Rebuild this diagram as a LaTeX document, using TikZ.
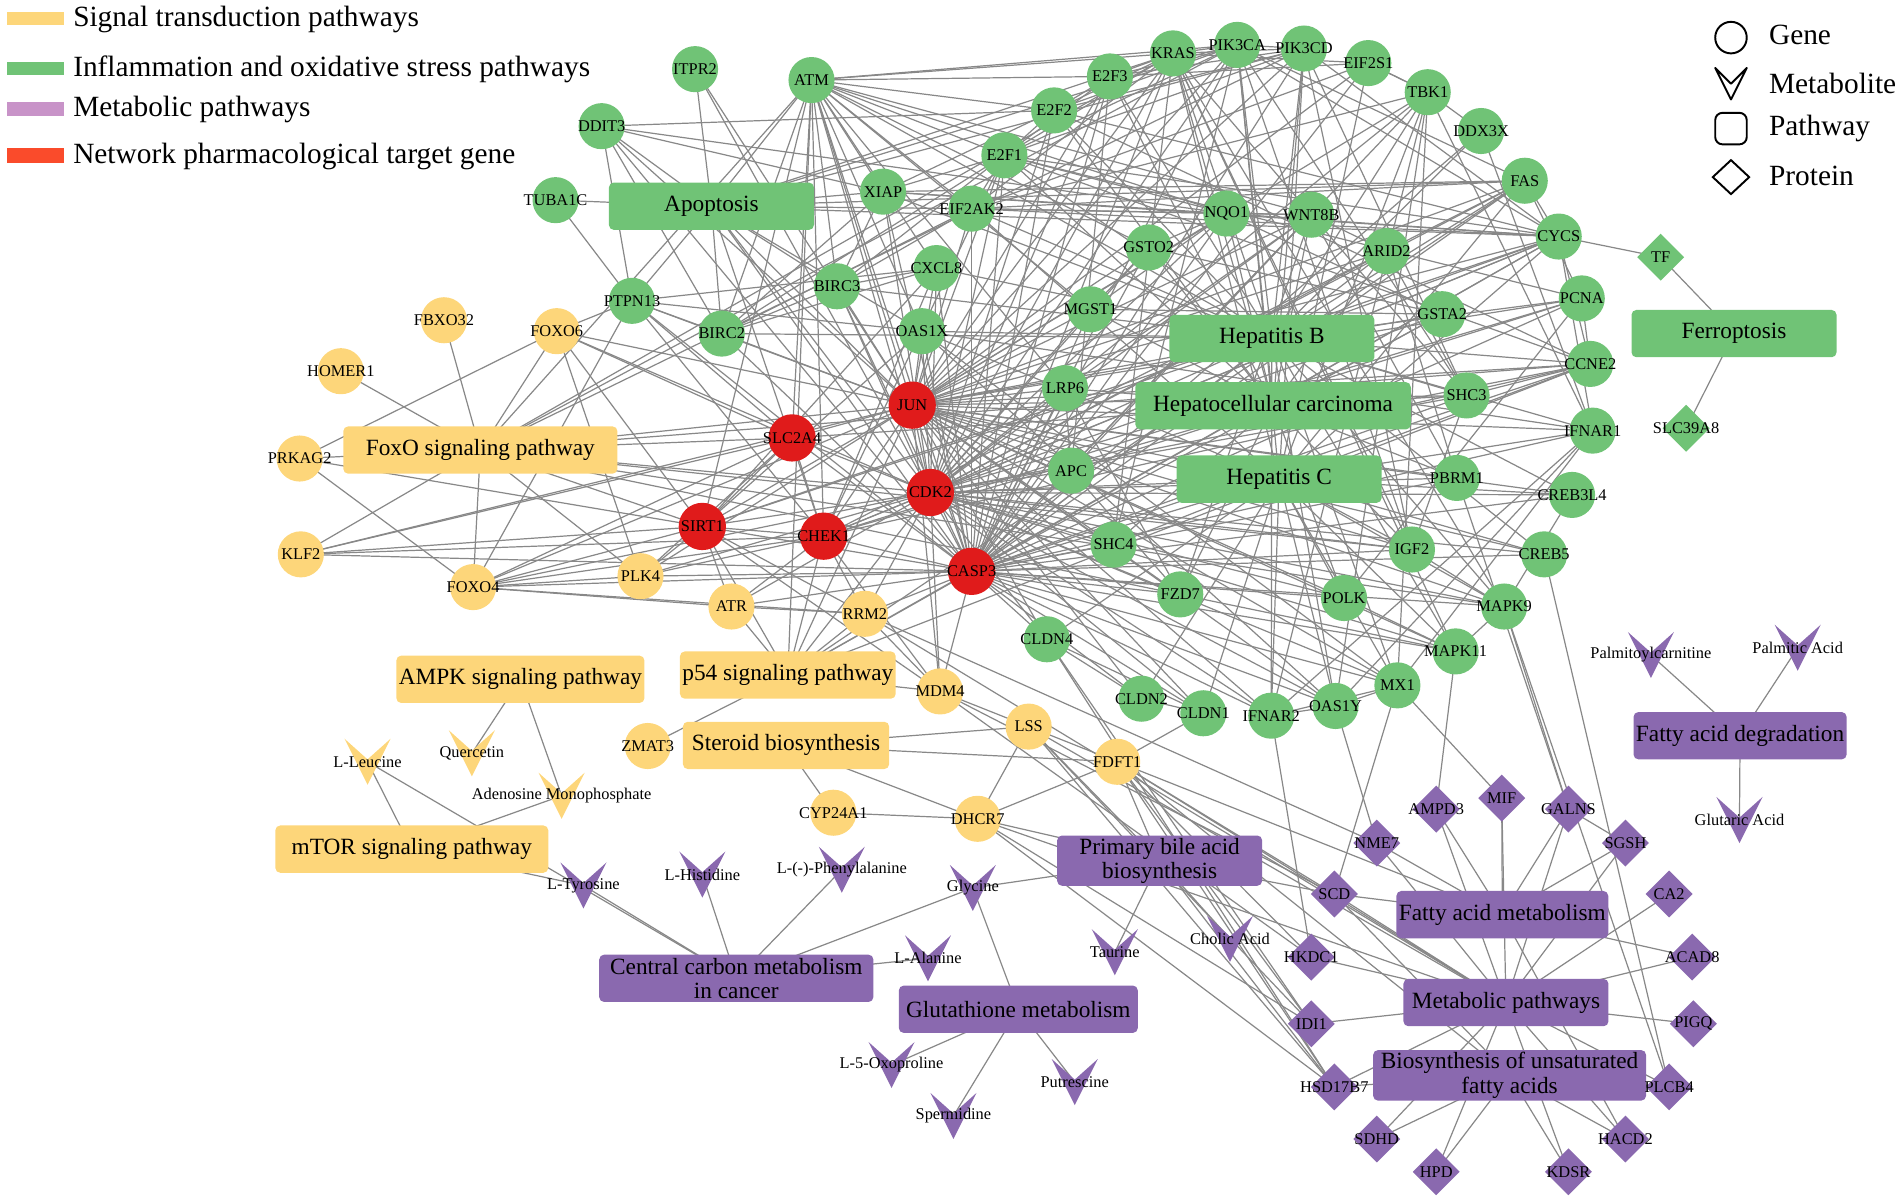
\documentclass[tikz,border=0pt]{standalone}
\usepackage{fontspec}
\setmainfont{Liberation Serif}
\usetikzlibrary{shapes.geometric}
\definecolor{yel}{HTML}{FDD67A}
\definecolor{grn}{HTML}{70C376}
\definecolor{tgt}{HTML}{E01B1B}
\definecolor{pur}{HTML}{8A69AF}
\definecolor{lgpur}{HTML}{C893C8}
\definecolor{lgred}{HTML}{FA4B2B}
\definecolor{edgegray}{HTML}{888888}
\pgfdeclarelayer{edges}
\pgfsetlayers{edges,main}
% metabolite chevron: [colour]{name}{x}{y}{label}
\newcommand{\metab}[5][pur]{%
  \fill[#1] (#3-19,#4-19) -- (#3,#4-2) -- (#3+19,#4-19) -- (#3,#4+19) -- cycle;
  \node[mlab] (#2) at (#3,#4) {#5};}
% one hub to many nodes
\newcommand{\fan}[2]{\foreach \nd in {#2} \draw[link] (#1.center) -- (\nd.center);}
\begin{document}
\begin{tikzpicture}[x=0.5pt,y=-0.5pt,
    ctr/.style={execute at begin node={\hbox to 0pt\bgroup\hss},
                execute at end node={\hss\egroup}},
    gfont/.style={font=\fontsize{6.75}{7}\selectfont},
    gene/.style={circle,fill=grn,minimum size=19pt,inner sep=0pt,gfont,ctr},
    target/.style={gene,fill=tgt,minimum size=19.5pt},
    ygene/.style={gene,fill=yel},
    prot/.style={diamond,fill=pur,minimum width=19.5pt,minimum height=19.5pt,inner sep=0pt,gfont,ctr},
    gprot/.style={prot,fill=grn},
    pwy/.style={rectangle,rounded corners=2pt,minimum height=19.5pt,inner sep=1pt,
                align=center,font=\fontsize{9.6}{10}\selectfont},
    gpw/.style={pwy,fill=grn,minimum width=#1},
    ypw/.style={pwy,fill=yel,minimum width=#1},
    ppw/.style={pwy,fill=pur,minimum width=#1},
    mlab/.style={inner sep=0pt,gfont},
    lgtext/.style={anchor=base west,inner sep=0pt,font=\fontsize{12.1}{13}\selectfont},
    link/.style={draw=edgegray,line width=0.5pt}]
\useasboundingbox (0,0) rectangle (1568,992);

% legend, colours
\fill[yel] (6,10) rectangle (53,21);
\fill[grn] (6,51) rectangle (53,62);
\fill[lgpur] (6,84) rectangle (53,96);
\fill[lgred] (6,122) rectangle (53,134);
\node[lgtext] (lgsig) at (60,22) {Signal transduction pathways};
\node[lgtext] (lginf) at (60,63) {Inflammation and oxidative stress pathways};
\node[lgtext] (lgmet) at (60,96) {Metabolic pathways};
\node[lgtext] (lgnet) at (60,135) {Network pharmacological target gene};
% legend, shapes
\draw[line width=0.8pt] (1427,31) circle [radius=13];
\draw[line width=0.8pt,line join=round] (1414,56) -- (1427,82) -- (1440,56) -- (1427,69) -- cycle;
\draw[line width=0.8pt,rounded corners=3pt] (1414,93) rectangle (1440,119);
\draw[line width=0.8pt] (1427,132) -- (1442,146) -- (1427,160) -- (1412,146) -- cycle;
\node[lgtext] (lggene) at (1458,37) {Gene};
\node[lgtext] (lgmeta) at (1458,77) {Metabolite};
\node[lgtext] (lgpath) at (1458,112) {Pathway};
\node[lgtext] (lgprot) at (1458,153) {Protein};

% pathways
\node[gpw=84.5pt] (apo) at (586.5,170) {Apoptosis};
\node[gpw=84.5pt] (hepb) at (1048.5,279) {Hepatitis B};
\node[gpw=113.5pt] (hcc) at (1049.5,334.5) {Hepatocellular carcinoma};
\node[gpw=84.5pt] (hepc) at (1054.5,395) {Hepatitis C};
\node[gpw=84.5pt] (ferro) at (1429.5,275) {Ferroptosis};
\node[ypw=113pt] (foxo) at (396,371) {FoxO signaling pathway};
\node[ypw=102pt] (ampk) at (429,560) {AMPK signaling pathway};
\node[ypw=86pt] (p54) at (649.5,556.5) {p54 signaling pathway};
\node[ypw=85pt] (ster) at (648,614.5) {Steroid biosynthesis};
\node[ypw=112.5pt] (mtor) at (339.5,700) {mTOR signaling pathway};
\node[ppw=84.5pt] (pba) at (956,709.5) {Primary bile acid\\biosynthesis};
\node[ppw=113pt] (ccm) at (607,806.5) {Central carbon metabolism\\in cancer};
\node[ppw=98.5pt] (glu) at (839.5,832) {Glutathione metabolism};
\node[ppw=84.5pt] (fad) at (1434.5,606.5) {Fatty acid degradation};
\node[ppw=84.5pt] (fam) at (1238.5,754) {Fatty acid metabolism};
\node[ppw=84.5pt] (met) at (1241.5,826.5) {Metabolic pathways};
\node[ppw=112.5pt] (bufa) at (1244.5,886.5) {Biosynthesis of unsaturated\\fatty acids};

% green genes
\node[gene] (itpr2) at (573,57) {ITPR2};
\node[gene] (atm) at (669,66) {ATM};
\node[gene] (ddit3) at (496,104) {DDIT3};
\node[gene] (tuba) at (458,165) {TUBA1C};
\node[gene] (xiap) at (728,158) {XIAP};
\node[gene] (eif2ak2) at (801,172) {EIF2AK2};
\node[gene] (e2f1) at (828,128) {E2F1};
\node[gene] (e2f2) at (869,91) {E2F2};
\node[gene] (e2f3) at (915,63) {E2F3};
\node[gene] (kras) at (967,44) {KRAS};
\node[gene] (pik3ca) at (1020,37) {PIK3CA};
\node[gene] (pik3cd) at (1075,40) {PIK3CD};
\node[gene] (eif2s1) at (1128,52) {EIF2S1};
\node[gene] (tbk1) at (1177,76) {TBK1};
\node[gene] (ddx3x) at (1221,108) {DDX3X};
\node[gene] (fas) at (1257,149) {FAS};
\node[gene] (cycs) at (1285,195) {CYCS};
\node[gene] (nqo1) at (1011,176) {NQO1};
\node[gene] (wnt8b) at (1081,177) {WNT8B};
\node[gene] (arid2) at (1143,207) {ARID2};
\node[gene] (gsto2) at (947,204) {GSTO2};
\node[gene] (cxcl8) at (772,221) {CXCL8};
\node[gene] (birc3) at (690,236) {BIRC3};
\node[gene] (ptpn) at (521,248) {PTPN13};
\node[gene] (birc2) at (595,275) {BIRC2};
\node[gene] (oas1x) at (760,273) {OAS1X};
\node[gene] (mgst1) at (899,255) {MGST1};
\node[gene] (gsta2) at (1189,259) {GSTA2};
\node[gene] (pcna) at (1304,246) {PCNA};
\node[gene] (ccne2) at (1311,300) {CCNE2};
\node[gene] (shc3) at (1209,326) {SHC3};
\node[gene] (ifnar1) at (1313,355) {IFNAR1};
\node[gene] (pbrm1) at (1201,394) {PBRM1};
\node[gene] (creb3l4) at (1296,408) {CREB3L4};
\node[gene] (creb5) at (1273,457) {CREB5};
\node[gene] (igf2) at (1164,453) {IGF2};
\node[gene] (polk) at (1108,493) {POLK};
\node[gene] (mapk9) at (1240,500) {MAPK9};
\node[gene] (mapk11) at (1200,537) {MAPK11};
\node[gene] (mx1) at (1152,565) {MX1};
\node[gene] (oas1y) at (1101,582) {OAS1Y};
\node[gene] (ifnar2) at (1048,590) {IFNAR2};
\node[gene] (cldn1) at (992,588) {CLDN1};
\node[gene] (cldn2) at (941,576) {CLDN2};
\node[gene] (cldn4) at (863,527) {CLDN4};
\node[gene] (fzd7) at (973,490) {FZD7};
\node[gene] (shc4) at (918,449) {SHC4};
\node[gene] (apc) at (883,388) {APC};
\node[gene] (lrp6) at (878,320) {LRP6};
\node[gprot] (tf) at (1369,212) {TF};
\node[gprot] (slc39a8) at (1390,353) {SLC39A8};

% target genes
\node[target] (jun) at (752,334) {JUN};
\node[target] (slc2a4) at (653,361) {SLC2A4};
\node[target] (cdk2) at (767,406) {CDK2};
\node[target] (sirt1) at (579,434) {SIRT1};
\node[target] (chek1) at (679,442) {CHEK1};
\node[target] (casp3) at (801,471) {CASP3};

% yellow genes
\node[ygene] (fbxo32) at (366,264) {FBXO32};
\node[ygene] (foxo6) at (459,273) {FOXO6};
\node[ygene] (homer1) at (281,306) {HOMER1};
\node[ygene] (prkag2) at (247,378) {PRKAG2};
\node[ygene] (klf2) at (248,457) {KLF2};
\node[ygene] (foxo4) at (390,484) {FOXO4};
\node[ygene] (plk4) at (528,475) {PLK4};
\node[ygene] (atr) at (603,500) {ATR};
\node[ygene] (rrm2) at (713,506) {RRM2};
\node[ygene] (mdm4) at (775,570) {MDM4};
\node[ygene] (zmat3) at (534,615) {ZMAT3};
\node[ygene] (lss) at (848,599) {LSS};
\node[ygene] (fdft1) at (921,628) {FDFT1};
\node[ygene] (cyp24a1) at (687,670) {CYP24A1};
\node[ygene] (dhcr7) at (806,675) {DHCR7};

% metabolites
\metab[yel]{lleu}{303}{628}{L-Leucine}
\metab[yel]{quer}{389}{621}{Quercetin}
\metab[yel]{amp}{463}{656}{Adenosine Monophosphate}
\metab{ltyr}{481}{730}{L-Tyrosine}
\metab{lhis}{579}{721}{L-Histidine}
\metab{lphe}{694}{717}{L-(-)-Phenylalanine}
\metab{gly}{802}{732}{Glycine}
\metab{lala}{765}{790}{L-Alanine}
\metab{oxo}{735}{878}{L-5-Oxoproline}
\metab{sperm}{786}{920}{Spermidine}
\metab{putr}{886}{892}{Putrescine}
\metab{taur}{919}{785}{Taurine}
\metab{cholic}{1014}{774}{Cholic Acid}
\metab{palm}{1361}{540}{Palmitoylcarnitine}
\metab{palmac}{1482}{534}{Palmitic Acid}
\metab{glut}{1434}{676}{Glutaric Acid}

% proteins
\node[prot] (nme7) at (1135,695) {NME7};
\node[prot] (ampd3) at (1184,667) {AMPD3};
\node[prot] (mif) at (1238,658) {MIF};
\node[prot] (galns) at (1293,667) {GALNS};
\node[prot] (sgsh) at (1340,695) {SGSH};
\node[prot] (ca2) at (1376,737) {CA2};
\node[prot] (acad8) at (1395,789) {ACAD8};
\node[prot] (pigq) at (1396,844) {PIGQ};
\node[prot] (plcb4) at (1376,896) {PLCB4};
\node[prot] (hacd2) at (1340,939) {HACD2};
\node[prot] (kdsr) at (1293,966) {KDSR};
\node[prot] (hpd) at (1184,966) {HPD};
\node[prot] (sdhd) at (1135,939) {SDHD};
\node[prot] (hsd17b7) at (1100,896) {HSD17B7};
\node[prot] (idi1) at (1081,844) {IDI1};
\node[prot] (hkdc1) at (1081,789) {HKDC1};
\node[prot] (scd) at (1100,737) {SCD};

\begin{pgfonlayer}{edges}
% pathway hubs
\fan{apo}{tuba,ddit3,itpr2,atm,xiap,birc2,birc3,ptpn,eif2ak2,casp3,jun,cycs,fas,pik3ca,pik3cd,kras,cdk2,chek1,oas1x}
\fan{hepb}{atm,e2f1,e2f2,e2f3,kras,pik3ca,pik3cd,tbk1,ddx3x,fas,cycs,casp3,jun,cdk2,cxcl8,birc2,birc3,xiap,pcna,ccne2,ifnar1,ifnar2,creb3l4,creb5,mapk9,mapk11,eif2ak2,shc3,oas1x,mx1,oas1y,sirt1}
\fan{hcc}{arid2,pbrm1,apc,lrp6,fzd7,wnt8b,nqo1,gsto2,mgst1,gsta2,kras,pik3ca,pik3cd,shc3,shc4,e2f1,e2f2,e2f3,igf2,polk,slc2a4,chek1}
\fan{hepc}{cldn1,cldn2,cldn4,ifnar1,ifnar2,oas1x,oas1y,mx1,eif2ak2,eif2s1,tbk1,cycs,fas,casp3,cdk2,ccne2,kras,pik3ca,pik3cd,mapk9,mapk11,polk,creb3l4,creb5,jun,igf2,shc4}
\fan{ferro}{tf,slc39a8}
\fan{foxo}{fbxo32,foxo6,homer1,prkag2,klf2,foxo4,plk4,sirt1,slc2a4,cdk2,kras,pik3ca,pik3cd,mapk9,mapk11,igf2,atm,jun,ccne2}
\fan{p54}{atm,atr,chek1,cdk2,casp3,rrm2,mdm4,zmat3,ccne2,cycs,fas,sirt1,jun}
\fan{ster}{lss,fdft1,dhcr7,cyp24a1}
\fan{ampk}{quer,amp}
\fan{mtor}{lleu,amp,ltyr}
\fan{ccm}{ltyr,lhis,lphe,gly,lala,lleu}
\fan{glu}{gly,oxo,sperm,putr}
\fan{pba}{gly,taur,cholic,dhcr7,hsd17b7,scd,fdft1,lss}
\fan{fad}{palm,palmac,glut}
\fan{met}{scd,hkdc1,idi1,hsd17b7,sdhd,hpd,kdsr,hacd2,plcb4,pigq,acad8,ca2,sgsh,galns,mif,ampd3,nme7,fdft1,lss,dhcr7,rrm2}
\fan{fam}{scd,acad8,hacd2,ampd3,mif,galns,sgsh,nme7,fdft1}
\fan{bufa}{scd,hacd2,hsd17b7,sdhd,hpd,kdsr,plcb4,fdft1}
% gene to gene
\fan{atm}{kras,pik3ca,e2f3,e2f2,e2f1,xiap,eif2ak2,birc3,birc2,cxcl8,oas1x,jun,cdk2,casp3,chek1,nqo1,wnt8b,gsto2,mgst1,lrp6,sirt1,slc2a4}
\fan{ddit3}{ptpn,e2f2,nqo1,jun,casp3,birc2,xiap}
\fan{itpr2}{jun,cdk2}
\fan{tuba}{ptpn}
\fan{ptpn}{birc2,foxo6,oas1x,cxcl8,jun,slc2a4,casp3,chek1,foxo4}
\fan{birc2}{cxcl8,eif2ak2,xiap,e2f1,birc3,casp3,jun}
\fan{birc3}{cxcl8,eif2ak2,xiap,e2f1,casp3,jun,cdk2}
\fan{xiap}{e2f1,e2f2,nqo1,cycs,fas,casp3,cdk2}
\fan{eif2ak2}{e2f1,nqo1,wnt8b,cycs,fas,tbk1,kras,jun,casp3}
\fan{e2f1}{e2f2,e2f3,kras,pik3ca,pik3cd,cdk2,jun,casp3,chek1,nqo1,cycs,ccne2,pcna}
\fan{e2f2}{e2f3,kras,pik3ca,pik3cd,cdk2,casp3,cycs,ccne2}
\fan{e2f3}{kras,pik3ca,pik3cd,eif2s1,cdk2,casp3,jun,apc}
\fan{kras}{pik3ca,pik3cd,shc3,shc4,mapk9,mapk11,cdk2,jun,casp3,igf2}
\fan{pik3ca}{pik3cd,shc3,shc4,igf2,jun,casp3,cdk2,fas,cycs}
\fan{pik3cd}{igf2,shc3,cycs,jun,casp3}
\fan{eif2s1}{tbk1,eif2ak2,kras,jun,casp3}
\fan{tbk1}{ddx3x,eif2s1,ifnar1,ifnar2,mx1,oas1y,casp3,jun,cdk2}
\fan{ddx3x}{ifnar1,casp3}
\fan{fas}{casp3,cycs,jun,cdk2,chek1,pcna}
\fan{cycs}{tf,casp3,jun,cdk2,sirt1,chek1,ifnar1,ccne2}
\fan{nqo1}{wnt8b,gsto2,mgst1,gsta2,cycs,jun,casp3,cdk2}
\fan{wnt8b}{apc,lrp6,fzd7,arid2,pbrm1,jun,cdk2,casp3}
\fan{arid2}{pbrm1,shc3,jun,cdk2,casp3}
\fan{gsto2}{mgst1,gsta2,jun,casp3,cdk2}
\fan{cxcl8}{jun,casp3,cdk2,sirt1,chek1}
\fan{oas1x}{oas1y,mx1,ifnar1,jun,casp3,cdk2,sirt1}
\fan{mgst1}{gsta2,jun,cdk2,casp3}
\fan{gsta2}{jun,casp3,cdk2}
\fan{pcna}{ccne2,cdk2,casp3,chek1,jun}
\fan{ccne2}{cdk2,casp3,jun,chek1,shc3}
\fan{shc3}{igf2,jun,casp3,cdk2}
\fan{ifnar1}{ifnar2,mx1,oas1y,casp3,jun}
\fan{pbrm1}{casp3,cdk2,jun,galns}
\fan{creb3l4}{jun,casp3,cdk2,mapk9}
\fan{creb5}{jun,casp3,cdk2,plcb4}
\fan{igf2}{mapk9,casp3,jun,cdk2}
\fan{polk}{casp3,cdk2,jun,mapk11,pcna}
\fan{mapk9}{mapk11,jun,casp3,cdk2,galns,plcb4}
\fan{mapk11}{jun,casp3,cdk2,ampd3}
\fan{mx1}{oas1y,ifnar2,casp3,jun,cdk2,mif,scd}
\fan{oas1y}{ifnar2,casp3,jun,cdk2,nme7}
\fan{ifnar2}{casp3,jun,cdk2,hkdc1}
\fan{cldn1}{cldn2,cldn4,casp3,cdk2,jun,fdft1}
\fan{cldn2}{cldn4,casp3,jun}
\fan{cldn4}{casp3,cdk2,jun,hsd17b7,idi1}
\fan{fzd7}{lrp6,apc,jun,casp3,cdk2}
\fan{shc4}{casp3,cdk2,jun}
\fan{apc}{lrp6,casp3,cdk2,jun}
\fan{lrp6}{jun,casp3,cdk2}
\fan{jun}{slc2a4,cdk2,casp3,chek1,sirt1,mdm4,foxo6,foxo4,klf2,plk4}
\fan{slc2a4}{sirt1,cdk2,casp3,chek1,foxo6,foxo4,klf2,plk4}
\fan{cdk2}{casp3,chek1,rrm2,mdm4,atr,sirt1,plk4,foxo4,foxo6}
\fan{sirt1}{foxo4,klf2,foxo6,prkag2,chek1,casp3,rrm2,mdm4,atr,plk4}
\fan{chek1}{atr,rrm2,casp3,klf2,foxo4,plk4,mdm4}
\fan{casp3}{mdm4,rrm2,atr,foxo4,klf2,plk4}
\fan{foxo6}{prkag2,plk4}
\fan{prkag2}{foxo4}
\fan{foxo4}{plk4,atr,rrm2}
\fan{atr}{rrm2}
\fan{rrm2}{nme7,mdm4}
\fan{mdm4}{lss,hkdc1,scd}
\fan{lss}{fdft1,dhcr7,hsd17b7,idi1}
\fan{fdft1}{dhcr7,scd,hkdc1,idi1,hsd17b7}
\fan{dhcr7}{cyp24a1,hsd17b7,idi1}
\fan{galns}{sgsh}
\end{pgfonlayer}
\end{tikzpicture}
\end{document}
